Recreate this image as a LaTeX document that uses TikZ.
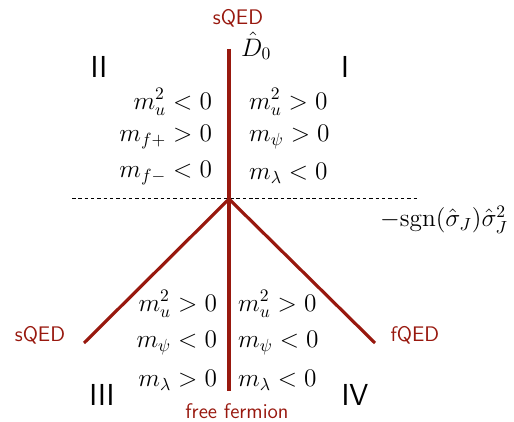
\documentclass[tikz,border=0pt]{standalone}
\usepackage{amsmath}

\definecolor{phasered}{RGB}{152,24,14}

\begin{document}
\begin{tikzpicture}[x=0.02cm,y=-0.02cm,inner sep=1pt,
    wall/.style={phasered,line width=1.8pt},
    phase/.style={phasered,font=\sffamily\large},
    region/.style={font=\sffamily\LARGE},
    cond/.style={font=\Large}]
    \useasboundingbox (0,0) rectangle (514,422);

    % lines
    \coordinate (top) at (229,49);
    \coordinate (apex) at (229,199);
    \coordinate (bot) at (229,391);
    \coordinate (lend) at (84,343);
    \coordinate (rend) at (375,343);
    \coordinate (dl) at (72,198);
    \coordinate (dr) at (419,198);

    \draw[dash pattern=on 2pt off 1.6pt,thin] (dl) -- (dr);
    \draw[wall] (top) -- (bot);
    \draw[wall] (lend) -- (apex) -- (rend);

    % axis labels
    \node[anchor=west] (d0) at (239,46) {\Large $\hat{D}_0$};
    \node[anchor=north east] (sig) at (510,204) {\Large $-\mathrm{sgn}(\hat{\sigma}_J)\hat{\sigma}_J^2$};

    % phases
    \node[phase] (sqedtop) at (238,18) {sQED};
    \node[phase] (sqedleft) at (40,335) {sQED};
    \node[phase] (fqed) at (415,335) {fQED};
    \node[phase] (free) at (237,411) {free fermion};

    % regions
    \node[region] (rI) at (345,67) {I};
    \node[region] (rII) at (99,67) {II};
    \node[region] (rIII) at (102,395) {III};
    \node[region] (rIV) at (355,395) {IV};

    % region II
    \node[cond,anchor=east] (a1) at (214,102) {$m_u^2<0$};
    \node[cond,anchor=east] (a2) at (214,137) {$m_{f+}>0$};
    \node[cond,anchor=east] (a3) at (214,173) {$m_{f-}<0$};
    % region I
    \node[cond,anchor=west] (b1) at (247,102) {$m_u^2>0$};
    \node[cond,anchor=west] (b2) at (247,137) {$m_{\psi}>0$};
    \node[cond,anchor=west] (b3) at (247,173) {$m_{\lambda}<0$};
    % region III
    \node[cond,anchor=east] (c1) at (219,304) {$m_u^2>0$};
    \node[cond,anchor=east] (c2) at (219,343) {$m_{\psi}<0$};
    \node[cond,anchor=east] (c3) at (219,380) {$m_{\lambda}>0$};
    % region IV
    \node[cond,anchor=west] (e1) at (236,304) {$m_u^2>0$};
    \node[cond,anchor=west] (e2) at (236,343) {$m_{\psi}<0$};
    \node[cond,anchor=west] (e3) at (236,380) {$m_{\lambda}<0$};
\end{tikzpicture}
\end{document}
